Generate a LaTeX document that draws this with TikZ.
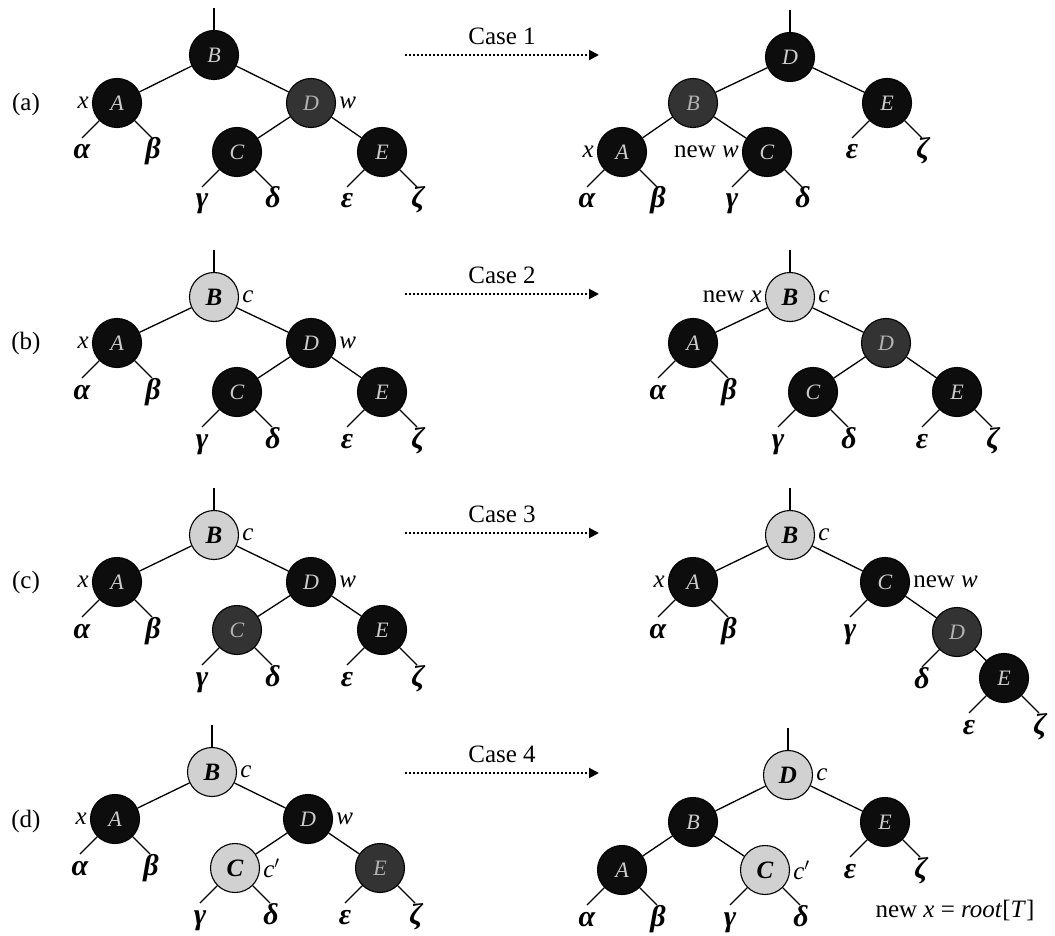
\documentclass[tikz,border=0pt]{standalone}
\usepackage{fontspec}
\setmainfont{Liberation Serif}
\usetikzlibrary{calc,arrows.meta}
\newcommand\labfont{\fontsize{25}{28}\selectfont\itshape}
\newcommand\txtfont{\fontsize{25}{28}\selectfont}
\newcommand\gkfont{\fontsize{30}{32}\selectfont\bfseries\itshape}
\newcommand\ndfont{\fontsize{22}{24}\selectfont\itshape}
\newcommand\ndfontB{\fontsize{25}{27}\selectfont\bfseries\itshape}
\newcommand\lleaf[2]{%
  \coordinate (#1-l) at ($(#1)+(-35,35)$);
  \draw[edge] (#1) -- (#1-l);
  \node[gk] (#1-lt) at ($(#1)+(-35,56)$) {#2};}
\newcommand\rleaf[2]{%
  \coordinate (#1-r) at ($(#1)+(35,35)$);
  \draw[edge] (#1) -- (#1-r);
  \node[gk] (#1-rt) at ($(#1)+(36,56)$) {#2};}
\newcommand\topstub[1]{%
  \coordinate (#1-t) at ($(#1)+(0,-47)$);
  \draw[edge] (#1-t) -- (#1);}
\begin{document}
\begin{tikzpicture}[x=1pt,y=-1pt,
  edge/.style={line width=1.3pt},
  nd/.style={circle, draw=black, line width=1.1pt, minimum size=49pt, inner sep=0pt},
  bn/.style={nd, fill=black!95, text=gray!40, font=\ndfont},
  rn/.style={nd, fill=black!80, text=gray!60, font=\ndfont},
  ln/.style={nd, fill=black!18, text=black, font=\ndfontB},
  gk/.style={font=\gkfont, anchor=base, inner sep=0pt},
  lab/.style={font=\labfont, inner sep=3pt},
  txt/.style={font=\txtfont, inner sep=3pt},
  casearrow/.style={line width=2pt, dotted, -{Triangle[length=10pt,width=10pt]}}]
\useasboundingbox (0,0) rectangle (1055,936);

% ---------- row labels ----------
\node[txt] (la) at (26,104) {(a)};
\node[txt] (lb) at (26,343) {(b)};
\node[txt] (lc) at (26,582) {(c)};
\node[txt] (ld) at (26,821) {(d)};

% ---------- case arrows ----------
\foreach \k/\y in {1/55,2/294,3/533,4/773}{
  \coordinate (cs\k) at (405,\y);
  \coordinate (ce\k) at (599,\y);
  \draw[casearrow] (cs\k) -- (ce\k);
  \node[txt] (case\k) at (502,\y-19) {Case \k};
}

% ================= (a) left =================
\node[bn] (aB) at (214,55) {B};
\node[bn] (aA) at (117,103) {A};
\node[rn] (aD) at (311,103) {D};
\node[bn] (aC) at (237,152) {C};
\node[bn] (aE) at (382,152) {E};
\topstub{aB}
\draw[edge] (aB) -- (aA); \draw[edge] (aB) -- (aD);
\draw[edge] (aD) -- (aC); \draw[edge] (aD) -- (aE);
\node[lab, anchor=east] (aAx) at (aA.west) {x};
\node[lab, anchor=west] (aDw) at (aD.east) {w};
\lleaf{aA}{α}\rleaf{aA}{β}
\lleaf{aC}{γ}\rleaf{aC}{δ}
\lleaf{aE}{ε}\rleaf{aE}{ζ}

% ================= (a) right =================
\node[bn] (aRD) at (790,57) {D};
\node[rn] (aRB) at (693,103) {B};
\node[bn] (aRE) at (887,103) {E};
\node[bn] (aRA) at (622,152) {A};
\node[bn] (aRC) at (767,152) {C};
\topstub{aRD}
\draw[edge] (aRD) -- (aRB); \draw[edge] (aRD) -- (aRE);
\draw[edge] (aRB) -- (aRA); \draw[edge] (aRB) -- (aRC);
\node[lab, anchor=east] (aRAx) at (aRA.west) {x};
\node[txt, anchor=east] (aRCw) at (aRC.west) {new \textit{w}};
\lleaf{aRA}{α}\rleaf{aRA}{β}
\lleaf{aRC}{γ}\rleaf{aRC}{δ}
\lleaf{aRE}{ε}\rleaf{aRE}{ζ}

% ================= (b) left =================
\node[ln] (bB) at (214,297) {B};
\node[bn] (bA) at (117,343) {A};
\node[bn] (bD) at (311,343) {D};
\node[bn] (bC) at (237,392) {C};
\node[bn] (bE) at (382,392) {E};
\topstub{bB}
\draw[edge] (bB) -- (bA); \draw[edge] (bB) -- (bD);
\draw[edge] (bD) -- (bC); \draw[edge] (bD) -- (bE);
\node[lab, anchor=west] (bBc) at (bB.east) {c};
\node[lab, anchor=east] (bAx) at (bA.west) {x};
\node[lab, anchor=west] (bDw) at (bD.east) {w};
\lleaf{bA}{α}\rleaf{bA}{β}
\lleaf{bC}{γ}\rleaf{bC}{δ}
\lleaf{bE}{ε}\rleaf{bE}{ζ}

% ================= (b) right =================
\node[ln] (bRB) at (790,297) {B};
\node[bn] (bRA) at (693,343) {A};
\node[rn] (bRD) at (886,343) {D};
\node[bn] (bRC) at (813,392) {C};
\node[bn] (bRE) at (957,392) {E};
\topstub{bRB}
\draw[edge] (bRB) -- (bRA); \draw[edge] (bRB) -- (bRD);
\draw[edge] (bRD) -- (bRC); \draw[edge] (bRD) -- (bRE);
\node[lab, anchor=west] (bRBc) at (bRB.east) {c};
\node[txt, anchor=east] (bRBx) at (bRB.west) {new \textit{x}};
\lleaf{bRA}{α}\rleaf{bRA}{β}
\lleaf{bRC}{γ}\rleaf{bRC}{δ}
\lleaf{bRE}{ε}\rleaf{bRE}{ζ}

% ================= (c) left =================
\node[ln] (cB) at (214,535) {B};
\node[bn] (cA) at (117,582) {A};
\node[bn] (cD) at (311,582) {D};
\node[rn] (cC) at (237,630) {C};
\node[bn] (cE) at (382,630) {E};
\topstub{cB}
\draw[edge] (cB) -- (cA); \draw[edge] (cB) -- (cD);
\draw[edge] (cD) -- (cC); \draw[edge] (cD) -- (cE);
\node[lab, anchor=west] (cBc) at (cB.east) {c};
\node[lab, anchor=east] (cAx) at (cA.west) {x};
\node[lab, anchor=west] (cDw) at (cD.east) {w};
\lleaf{cA}{α}\rleaf{cA}{β}
\lleaf{cC}{γ}\rleaf{cC}{δ}
\lleaf{cE}{ε}\rleaf{cE}{ζ}

% ================= (c) right =================
\node[ln] (cRB) at (790,535) {B};
\node[bn] (cRA) at (693,582) {A};
\node[bn] (cRC) at (885,582) {C};
\node[rn] (cRD) at (957,632) {D};
\node[bn] (cRE) at (1004,678) {E};
\topstub{cRB}
\draw[edge] (cRB) -- (cRA); \draw[edge] (cRB) -- (cRC);
\draw[edge] (cRC) -- (cRD); \draw[edge] (cRD) -- (cRE);
\node[lab, anchor=west] (cRBc) at (cRB.east) {c};
\node[lab, anchor=east] (cRAx) at (cRA.west) {x};
\node[txt, anchor=west] (cRCw) at (cRC.east) {new \textit{w}};
\lleaf{cRA}{α}\rleaf{cRA}{β}
\lleaf{cRC}{γ}
\lleaf{cRD}{δ}
\lleaf{cRE}{ε}\rleaf{cRE}{ζ}

% ================= (d) left =================
\node[ln] (dB) at (212,772) {B};
\node[bn] (dA) at (115,819) {A};
\node[bn] (dD) at (308,819) {D};
\node[ln] (dC) at (235,868) {C};
\node[rn] (dE) at (380,868) {E};
\topstub{dB}
\draw[edge] (dB) -- (dA); \draw[edge] (dB) -- (dD);
\draw[edge] (dD) -- (dC); \draw[edge] (dD) -- (dE);
\node[lab, anchor=west] (dBc) at (dB.east) {c};
\node[lab, anchor=east] (dAx) at (dA.west) {x};
\node[lab, anchor=west] (dDw) at (dD.east) {w};
\node[lab, anchor=west] (dCc) at (dC.east) {c$'$};
\lleaf{dA}{α}\rleaf{dA}{β}
\lleaf{dC}{γ}\rleaf{dC}{δ}
\lleaf{dE}{ε}\rleaf{dE}{ζ}

% ================= (d) right =================
\node[ln] (dRD) at (788,775) {D};
\node[bn] (dRB) at (693,822) {B};
\node[bn] (dRE) at (885,822) {E};
\node[bn] (dRA) at (622,870) {A};
\node[ln] (dRC) at (765,870) {C};
\topstub{dRD}
\draw[edge] (dRD) -- (dRB); \draw[edge] (dRD) -- (dRE);
\draw[edge] (dRB) -- (dRA); \draw[edge] (dRB) -- (dRC);
\node[lab, anchor=west] (dRDc) at (dRD.east) {c};
\node[lab, anchor=west] (dRCc) at (dRC.east) {c$'$};
\lleaf{dRA}{α}\rleaf{dRA}{β}
\lleaf{dRC}{γ}\rleaf{dRC}{δ}
\lleaf{dRE}{ε}\rleaf{dRE}{ζ}
\node[txt] (newroot) at (955,910) {new \textit{x} = \textit{root}[\textit{T}]};
\end{tikzpicture}
\end{document}
